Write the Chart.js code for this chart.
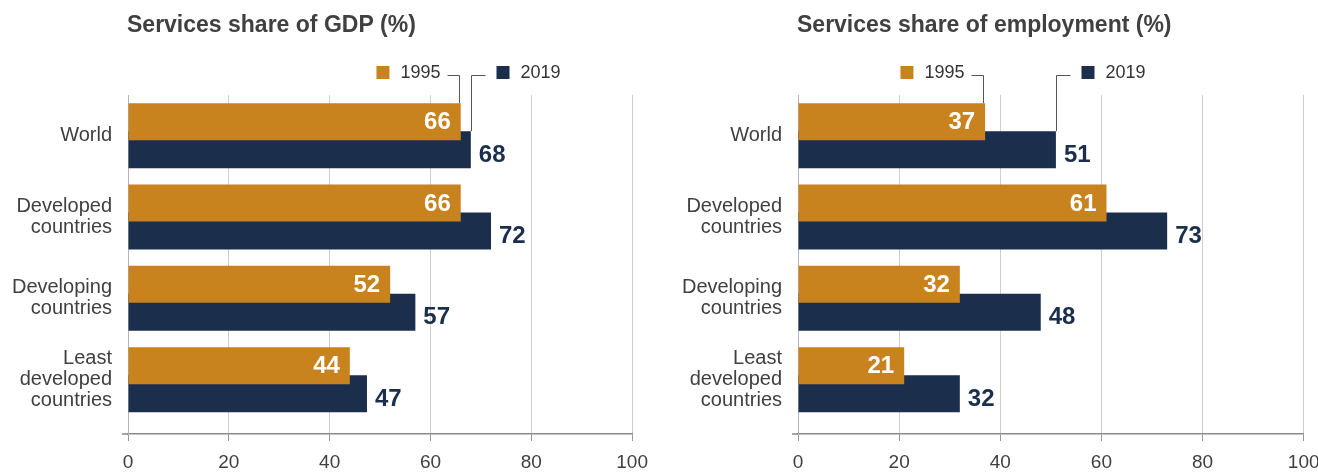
<!DOCTYPE html>
<html><head><meta charset="utf-8">
<script src="https://cdn.jsdelivr.net/npm/chart.js@4.4.1/dist/chart.umd.min.js"></script>
<style>
html,body{margin:0;padding:0;background:#fff;overflow:hidden;width:1318px;height:472px;position:relative;}
.box{position:absolute;top:0;height:484px;}
#b1{left:0;width:660px;}
#b2{left:660px;width:680px;}
</style></head><body>
<div class="box" id="b1"><canvas id="c1"></canvas></div>
<div class="box" id="b2"><canvas id="c2"></canvas></div>
<script>
// ---- data ----
const categories = [['World'], ['Developed', 'countries'], ['Developing', 'countries'], ['Least', 'developed', 'countries']];
const seriesNames = ['1995', '2019'];
const gdp1995 = [66, 66, 52, 44];
const gdp2019 = [68, 72, 57, 47.4];
const emp1995 = [37, 61, 32, 21];
const emp2019 = [51, 73, 48, 32];
const xTicks = [0, 20, 40, 60, 80, 100];
const titles = ['Services share of GDP (%)', 'Services share of employment (%)'];

const FONT = '"Liberation Sans", Arial, Helvetica, sans-serif';
const C1995 = '#c8821e';
const C2019 = '#1b2e4c';
const TXT = '#404040';

const overlay = {
  id: 'overlay',
  afterDraw(chart, args, opts) {
    const ctx = chart.ctx, ca = chart.chartArea;
    const m0 = chart.getDatasetMeta(0), m1 = chart.getDatasetMeta(1);
    ctx.save();
    // title
    ctx.font = 'bold 23px ' + FONT;
    ctx.fillStyle = TXT;
    ctx.textBaseline = 'middle';
    ctx.textAlign = 'left';
    ctx.fillText(opts.title, ca.left - 1, 26);
    // axis overhang
    ctx.strokeStyle = '#8a8a8a';
    ctx.lineWidth = 1.5;
    ctx.beginPath(); ctx.moveTo(ca.left - 6, ca.bottom); ctx.lineTo(ca.left, ca.bottom); ctx.stroke();
    // data labels
    ctx.font = 'bold 24px ' + FONT;
    m0.data.forEach((b0, i) => {
      const b1 = m1.data[i];
      const v0 = chart.data.datasets[0].data[i].x;
      const v1 = chart.data.datasets[1].data[i].x;
      ctx.fillStyle = '#ffffff';
      ctx.textAlign = 'right';
      ctx.fillText(String(Math.round(v0)), b0.x - 10, b0.y + 1);
      const visTop = b0.y + b0.height / 2;
      const visBot = b1.y + b1.height / 2;
      ctx.fillStyle = C2019;
      ctx.textAlign = 'left';
      ctx.fillText(String(Math.round(v1)), b1.x + 8, (visTop + visBot) / 2 + 1);
    });
    // legend with leader lines (anchored to first category bars)
    const a = m0.data[0], b = m1.data[0];
    const ly = 75.5;
    ctx.strokeStyle = '#555';
    ctx.lineWidth = 1;
    ctx.font = '18px ' + FONT;
    ctx.textBaseline = 'middle';
    // 1995
    const x1 = Math.round(a.x - 2) + 0.5;
    ctx.beginPath();
    ctx.moveTo(x1, a.y - a.height / 2);
    ctx.lineTo(x1, ly);
    ctx.lineTo(x1 - 12, ly);
    ctx.stroke();
    ctx.fillStyle = '#333';
    ctx.textAlign = 'right';
    const tr = x1 - 19;
    ctx.fillText(seriesNames[0], tr, 73.5);
    const tw = ctx.measureText(seriesNames[0]).width;
    ctx.fillStyle = C1995;
    ctx.fillRect(tr - tw - 11 - 13, 66, 13, 13);
    // 2019
    const x2 = Math.round(b.x) + 0.5;
    ctx.beginPath();
    ctx.moveTo(x2, b.y - b.height / 2);
    ctx.lineTo(x2, ly);
    ctx.lineTo(x2 + 14, ly);
    ctx.stroke();
    ctx.fillStyle = C2019;
    ctx.fillRect(x2 + 25, 66, 13, 13);
    ctx.fillStyle = '#333';
    ctx.textAlign = 'left';
    ctx.fillText(seriesNames[1], x2 + 49, 73.5);
    ctx.restore();
  }
};

function makeChart(id, title, d95, d19, yWidth, padRight) {
  return new Chart(document.getElementById(id), {
    type: 'bar',
    data: {
      datasets: [
        { label: seriesNames[0], data: d95.map((v, i) => ({ x: v, y: i })), backgroundColor: C1995,
          categoryPercentage: 0.6886, barPercentage: 1.3214, borderWidth: 0 },
        { label: seriesNames[1], data: d19.map((v, i) => ({ x: v, y: i })), backgroundColor: C2019,
          categoryPercentage: 0.6886, barPercentage: 1.3214, borderWidth: 0 }
      ]
    },
    options: {
      indexAxis: 'y',
      responsive: true,
      maintainAspectRatio: false,
      animation: false,
      layout: { padding: { top: 95, right: padRight, bottom: 0, left: 0 } },
      plugins: { legend: { display: false }, tooltip: { enabled: false }, overlay: { title } },
      scales: {
        x: {
          type: 'linear', position: 'bottom', min: 0, max: 100, offset: false,
          afterBuildTicks: s => { s.ticks = xTicks.map(v => ({ value: v })); },
          grid: { color: '#cfcfcf', lineWidth: 1, drawTicks: true, tickLength: 7, tickColor: '#9a9a9a', offset: false },
          border: { display: true, color: '#8a8a8a', width: 1.5 },
          ticks: { padding: 12, color: TXT, font: { family: FONT, size: 19, lineHeight: 1 }, maxRotation: 0 }
        },
        y: {
          type: 'linear', position: 'left', reverse: true, offset: false,
          min: -0.5, max: categories.length - 0.332,
          afterBuildTicks: s => { s.ticks = categories.map((c, i) => ({ value: i })); },
          afterFit: s => { s.width = yWidth; s.paddingTop = 0; s.paddingBottom = 0; },
          grid: { display: false, drawTicks: false, offset: false },
          border: { display: true, color: '#b5b5b5', width: 1 },
          ticks: { padding: 16, color: TXT, autoSkip: false,
                   font: { family: FONT, size: 20, lineHeight: 1.05 },
                   callback: v => categories[v] }
        }
      }
    },
    plugins: [overlay]
  });
}

makeChart('c1', titles[0], gdp1995, gdp2019, 128, 25.5);
makeChart('c2', titles[1], emp1995, emp2019, 138, 36.3);
</script>
</body></html>
